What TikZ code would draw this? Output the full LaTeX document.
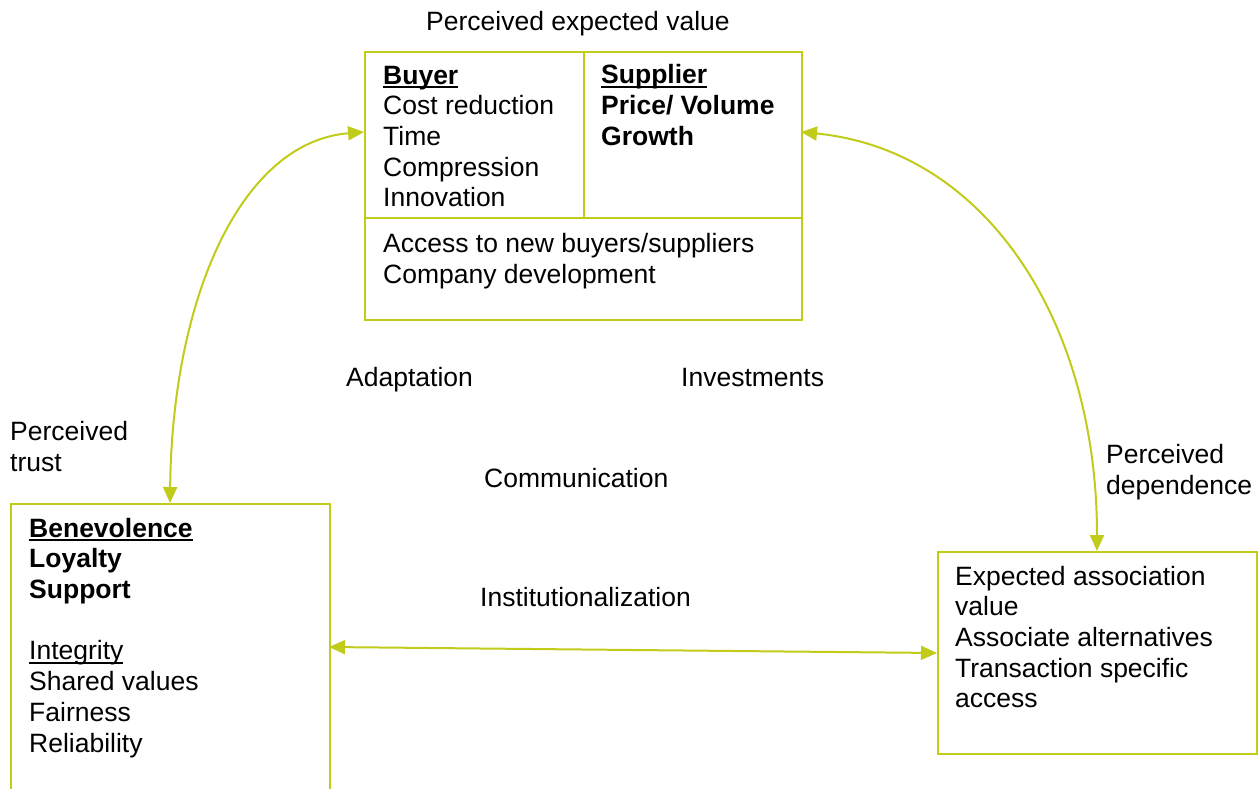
\documentclass[tikz,border=0pt]{standalone}
\usepackage{fontspec}
\setmainfont{Liberation Sans}
\usetikzlibrary{arrows.meta}
\definecolor{lime}{RGB}{193,203,26}

% underline close to the baseline, #1 = rule thickness
\newcommand\undl[2]{{\setbox0\hbox{#2}\rlap{\rule[-4pt]{\wd0}{#1}}\box0}}

\tikzset{
    frame/.style={draw=lime,line width=2pt,minimum width=#1,inner sep=0pt,anchor=north west},
    rule/.style={draw=lime,line width=2pt},
    link/.style={draw=lime,line width=2pt,{Triangle[length=16pt,width=14pt]}-{Triangle[length=16pt,width=14pt]}},
    txt/.style={inner sep=0pt,anchor=base west,align=left,font=\fontsize{26.5}{30.7}\selectfont},
}

\begin{document}
\begin{tikzpicture}[x=1pt,y=-1pt]
                \useasboundingbox (0,0) rectangle (1258,789);
                \clip (0,0) rectangle (1258,789);

                % multi-line texts sit on the baseline of their last line
                \node[frame=437pt,minimum height=268pt] (value) at(364,51) {};
                \draw[rule] (value.north) -- ++(0,167);
                \draw[rule] (364,218) -- (801,218);
                \node[txt] (title) at(426,31) {Perceived expected value};
                \node[txt] (buyer) at(383,206.8) {\textbf{\undl{2.5pt}{Buyer}}\\Cost reduction\\Time\\Compression\\Innovation};
                \node[txt] (supplier) at(601,145.4) {\textbf{\undl{2.5pt}{Supplier}}\\\textbf{Price/ Volume}\\\textbf{Growth}};
                \node[txt] (access) at(383,283) {Access to new buyers/suppliers\\Company development};

                \node[frame=319pt,minimum height=320pt] (trust) at(10,503) {};
                \node[txt] (bene) at(29,752) {\textbf{\undl{2.5pt}{Benevolence}}\\\textbf{Loyalty}\\\textbf{Support}\\[30.7pt]\undl{1.6pt}{Integrity}\\Shared values\\Fairness\\Reliability};

                \node[frame=319pt,minimum height=202pt] (dep) at(937,551) {};
                \node[txt] (assoc) at(955,707.8) {Expected association\\value\\Associate alternatives\\Transaction specific\\access};

                \node[txt] (adapt) at(346,386) {Adaptation};
                \node[txt] (invest) at(681,386) {Investments};
                \node[txt] (comm) at(484,487) {Communication};
                \node[txt] (inst) at(480,606) {Institutionalization};
                \node[txt] (ptrust) at(10,471) {Perceived\\trust};
                \node[txt] (pdep) at(1106,494) {Perceived\\dependence};

                \coordinate (valueL) at(364,132);
                \coordinate (valueR) at(801,132);
                \coordinate (trustT) at(170,503);
                \coordinate (trustR) at(329,647);
                \coordinate (depT) at(1097,551);

                \draw[link] (trustT) .. controls (172,300) and (240,142) .. (valueL);
                \draw[link] (valueR) .. controls (985,150) and (1097,320) .. (depT);
                \draw[link] (trustR) -- (dep.west);
\end{tikzpicture}
\end{document}
